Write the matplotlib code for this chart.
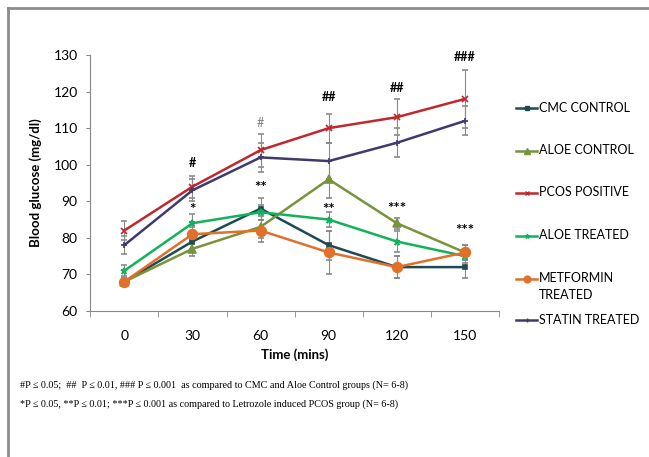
import matplotlib
matplotlib.use("Agg")
import matplotlib.pyplot as plt
from matplotlib.lines import Line2D
import numpy as np

plt.rcParams["font.family"] = ["Lato", "DejaVu Sans"]

# data
times = ["0", "30", "60", "90", "120", "150"]

cmc_control = [68, 79, 88, 78, 72, 72]
cmc_err = [1, 2, 3, 4, 3, 3]
aloe_control = [68, 77, 83, 96, 84, 76]
aloe_control_err = [1, 2, 3, 5, 1.5, 2]
pcos_positive = [82, 94, 104, 110, 113, 118]
pcos_err = [2.5, 3, 4.5, 4, 5, 8]
aloe_treated = [71, 84, 87, 85, 79, 75]
aloe_treated_err = [1.5, 2.5, 2, 2, 3, 2]
metformin = [68, 81, 82, 76, 72, 76]
metformin_err = [1, 2, 3, 6, 3, 2]
statin = [78, 93, 102, 101, 106, 112]
statin_err = [2.5, 3, 4, 5, 4, 4]

# significance marks: (x index, y value, text, colour)
marks = [
    (1, 100.5, "#", "black"), (2, 111.5, "#", "gray"), (3, 118.5, "##", "black"),
    (4, 121.0, "##", "black"), (5, 129.5, "###", "black"),
    (1, 87.5, "*", "black"), (2, 93.5, "**", "black"), (3, 87.5, "**", "black"),
    (4, 88.0, "***", "black"), (5, 82.0, "***", "black"),
]

series = [
    ("CMC CONTROL", cmc_control, cmc_err, "#1d4a55", "s", 3.5),
    ("ALOE CONTROL", aloe_control, aloe_control_err, "#77933c", "^", 5.5),
    ("PCOS POSITIVE", pcos_positive, pcos_err, "#c0282d", "x", 4.5),
    ("ALOE TREATED", aloe_treated, aloe_treated_err, "#12b25a", "*", 4.5),
    ("METFORMIN\nTREATED", metformin, metformin_err, "#e0702a", "o", 7),
    ("STATIN TREATED", statin, statin_err, "#3f3a6e", "+", 5),
]
# legend rows (pixel y of each entry's first line, Excel-style uneven spacing)
legend_rows = [108, 151, 193, 236, 279, 320]

W, H = 649, 457
fig = plt.figure(figsize=(W / 100, H / 100), dpi=100)
ax = fig.add_axes([0.139, 0.3195, 0.63, 0.5601])

x = np.arange(len(times))
for name, vals, err, col, mk, ms in series:
    ax.errorbar(x, vals, yerr=err, color=col, lw=1.8, marker=mk, ms=ms,
                mew=1.2, ecolor="#8a8a8a", elinewidth=0.8, capsize=2.5, capthick=0.8)

for xi, yv, txt, c in marks:
    ax.text(xi, yv, txt, ha="center", va="center", fontsize=11 if "*" in txt else 9,
            color=c, fontweight="bold" if c == "black" else "normal")

ax.set_xlim(-0.5, 5.5)
ax.set_ylim(60, 130)
ax.set_yticks(range(60, 131, 10))
ax.set_xticks(x)
ax.set_xticklabels(times)
ax.set_xticks(np.arange(-0.5, 5.6, 1), minor=True)
ax.tick_params(axis="x", which="major", length=0, pad=14, labelsize=10)
ax.tick_params(axis="x", which="minor", length=4, color="#888888")
ax.tick_params(axis="y", length=3, color="#888888", labelsize=10, pad=6)
for s in ["top", "right"]:
    ax.spines[s].set_visible(False)
for s in ["left", "bottom"]:
    ax.spines[s].set_color("#888888")
ax.set_xlabel("Time (mins)", fontsize=9.5, fontweight="bold", labelpad=4)
ax.set_ylabel("Blood glucose (mg/dl)", fontsize=9.5, fontweight="bold", labelpad=8)

# legend drawn entry by entry to keep the uneven row spacing
for (name, vals, err, col, mk, ms), py in zip(series, legend_rows):
    fy = 1 - py / H
    fig.add_artist(Line2D([516 / W, 537 / W], [fy, fy], color=col, lw=1.8,
                          transform=fig.transFigure))
    fig.add_artist(Line2D([526.5 / W], [fy], color=col, marker=mk, ms=ms * 0.7,
                          mew=1.0, transform=fig.transFigure))
    fig.text(539 / W, 1 - (py - 6.5) / H, name, fontsize=9, va="top", ha="left",
             linespacing=1.45)

fig.text(0.031, 0.152, "#P \u2264 0.05;  ##  P \u2264 0.01, ### P \u2264 0.001  as compared to CMC and Aloe Control groups (N= 6-8)",
         family="Liberation Serif", fontsize=7.3)
fig.text(0.031, 0.111, "*P \u2264 0.05, **P \u2264 0.01; ***P \u2264 0.001 as compared to Letrozole induced PCOS group (N= 6-8)",
         family="Liberation Serif", fontsize=7.3)

# grey frame on the top and left edges
fig.add_artist(Line2D([8 / W, 8 / W], [0, 1 - 8 / H], color="#8c8c8c", lw=2, transform=fig.transFigure))
fig.add_artist(Line2D([8 / W, 1], [1 - 8 / H, 1 - 8 / H], color="#8c8c8c", lw=2, transform=fig.transFigure))

fig.savefig("out.png", dpi=100)
